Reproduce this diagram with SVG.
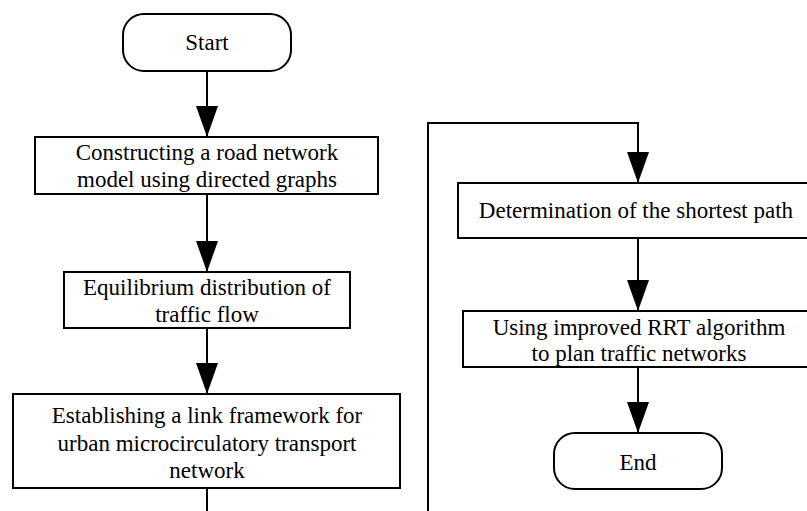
<svg xmlns="http://www.w3.org/2000/svg" width="807" height="511" viewBox="0 0 807 511">
<style>
.box{fill:#fff;stroke:#000;stroke-width:2}
.conn{fill:none;stroke:#000;stroke-width:2}
</style>
<defs>
<marker id="ah" markerUnits="userSpaceOnUse" markerWidth="32" markerHeight="22" refX="31" refY="11" orient="auto">
<path d="M0,0 L31,11 L0,22 z" fill="#000"/>
</marker>
</defs>
<rect width="807" height="511" fill="#fff"/>
<g id="connectors">
<path class="conn" d="M207,71 V137" marker-end="url(#ah)"/>
<path class="conn" d="M207,194 V272" marker-end="url(#ah)"/>
<path class="conn" d="M207,328 V394" marker-end="url(#ah)"/>
<path class="conn" d="M207,488 V530 H428 V123 H638 V183" marker-end="url(#ah)"/>
<path class="conn" d="M638,238 V311" marker-end="url(#ah)"/>
<path class="conn" d="M638,367 V433" marker-end="url(#ah)"/>
</g>
<g font-family="Liberation Serif, serif" font-size="23" text-anchor="middle" fill="#000">
<g id="start">
<rect class="box" x="123" y="14" width="168" height="57" rx="21" ry="21"/>
<text x="207" y="50" style="font-family:'Liberation Serif',serif">Start</text>
</g>
<g id="construct">
<rect class="box" x="35" y="137" width="343" height="57"/>
<text x="207" y="160" style="font-family:'Liberation Serif',serif">Constructing a road network</text>
<text x="207" y="187" style="font-family:'Liberation Serif',serif">model using directed graphs</text>
</g>
<g id="equilibrium">
<rect class="box" x="64" y="272" width="286" height="56"/>
<text x="207" y="295" style="font-family:'Liberation Serif',serif">Equilibrium distribution of</text>
<text x="207" y="322" style="font-family:'Liberation Serif',serif">traffic flow</text>
</g>
<g id="framework">
<rect class="box" x="13" y="394" width="387" height="94"/>
<text x="207" y="423" style="font-family:'Liberation Serif',serif">Establishing a link framework for</text>
<text x="207" y="451" style="font-family:'Liberation Serif',serif">urban microcirculatory transport</text>
<text x="207" y="478" style="font-family:'Liberation Serif',serif">network</text>
</g>
<g id="shortest">
<rect class="box" x="458" y="183" width="360" height="55"/>
<text x="636" y="218" style="font-family:'Liberation Serif',serif">Determination of the shortest path</text>
</g>
<g id="rrt">
<rect class="box" x="463" y="311" width="352" height="56"/>
<text x="639" y="335" style="font-family:'Liberation Serif',serif">Using improved RRT algorithm</text>
<text x="639" y="361" style="font-family:'Liberation Serif',serif">to plan traffic networks</text>
</g>
<g id="end">
<rect class="box" x="554" y="433" width="168" height="56" rx="21" ry="21"/>
<text x="638" y="470" style="font-family:'Liberation Serif',serif">End</text>
</g>
</g>
</svg>
